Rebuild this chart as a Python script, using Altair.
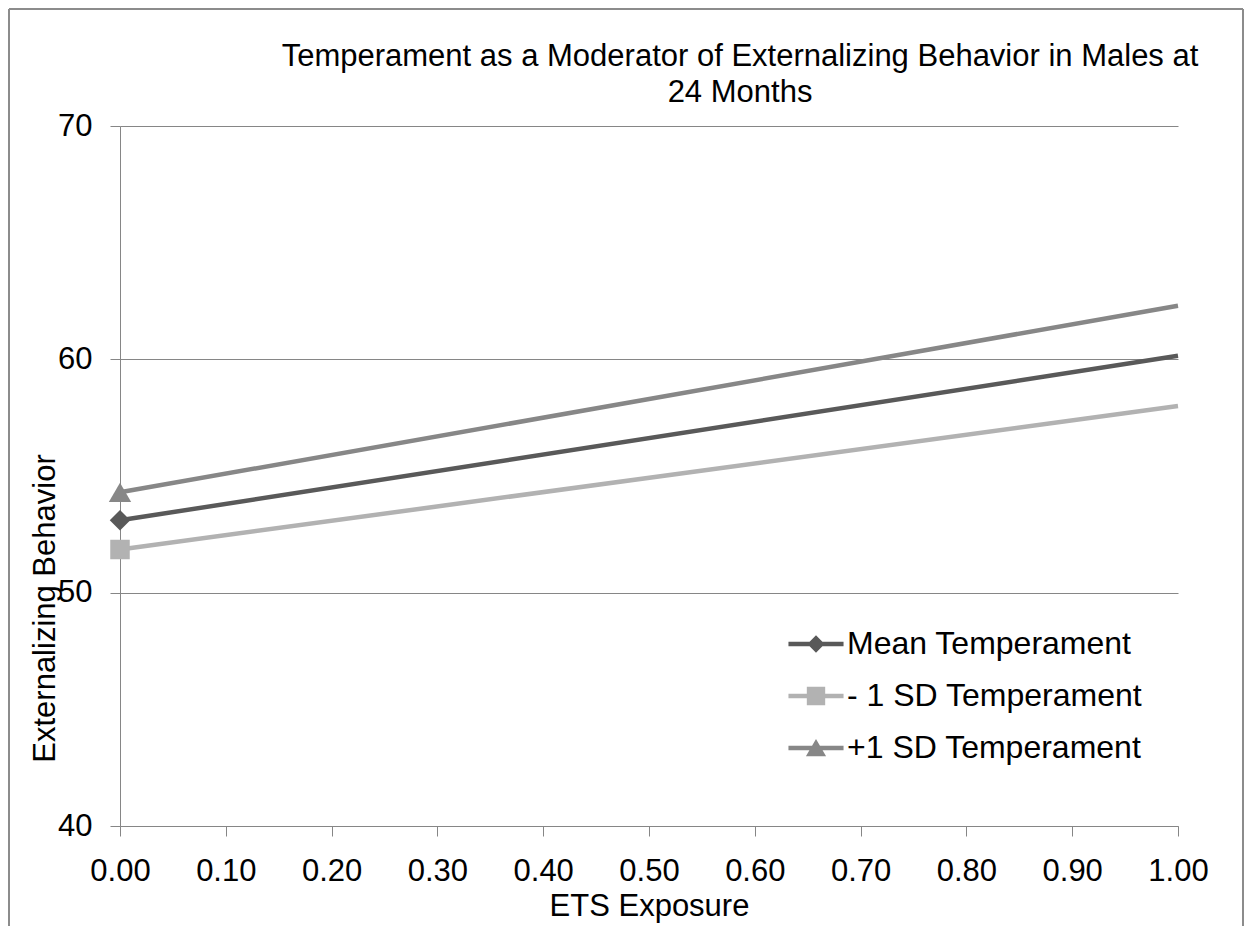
import altair as alt
import pandas as pd

# ---- data ----
ets_levels = [0.0, 1.0]
series_names = ["Mean Temperament", "- 1 SD Temperament", "+1 SD Temperament"]
mean_values = [53.1, 60.15]
minus_sd_values = [51.85, 58.0]
plus_sd_values = [54.3, 62.3]
x_tick_values = [0.0, 0.1, 0.2, 0.3, 0.4, 0.5, 0.6, 0.7, 0.8, 0.9, 1.0]
y_tick_values = [40, 50, 60, 70]

rows = []
for name, vals in zip(series_names, [mean_values, minus_sd_values, plus_sd_values]):
    for x, v in zip(ets_levels, vals):
        rows.append({"ets": x, "value": v, "series": name})
df = pd.DataFrame(rows)

# ---- styling ----
FONT = "Liberation Sans"
FS = 31
GRAY = "#868686"
line_colors = ["#595959", "#b2b2b2", "#878787"]
marker_shapes = ["diamond", "square", "triangle-up"]
marker_sizes = [420, 380, 500]
# legend symbols: a line with the marker on it (units of sqrt(symbolSize)/2 = 9px)
legend_paths = [
    "M-3.06,-0.245H3.06V0.245H-3.06Z M0,-0.96L0.96,0L0,0.96L-0.96,0Z",
    "M-3.06,-0.245H3.06V0.245H-3.06Z M-1.02,-1.02H1.02V1.02H-1.02Z",
    "M-3.06,-0.245H3.06V0.245H-3.06Z M0,-1L1.12,0.92H-1.12Z",
]

W, H = 1058, 700
PAD = {"left": 112, "top": 118, "right": 66, "bottom": 100}

x_enc = alt.X(
    "ets:Q",
    scale=alt.Scale(domain=[0, 1], nice=False, zero=False),
    axis=alt.Axis(
        values=x_tick_values, format=".2f", grid=False,
        tickSize=10, tickColor=GRAY, tickWidth=1,
        domainColor=GRAY, domainWidth=1,
        labelFont=FONT, labelFontSize=FS, labelColor="black",
        labelPadding=20, labelFlush=False, labelOverlap=False,
        title="ETS Exposure", titleFont=FONT, titleFontSize=FS,
        titleFontWeight="normal", titleColor="black", titlePadding=5,
    ),
)
y_enc = alt.Y(
    "value:Q",
    scale=alt.Scale(domain=[40, 70], nice=False, zero=False),
    axis=alt.Axis(
        values=y_tick_values, grid=True, gridColor=GRAY, gridWidth=1,
        tickSize=10, tickColor=GRAY, tickWidth=1,
        domainColor=GRAY, domainWidth=1,
        labelFont=FONT, labelFontSize=FS, labelColor="black",
        labelPadding=18, labelFlush=False, labelOverlap=False,
        title="Externalizing Behavior", titleFont=FONT, titleFontSize=FS,
        titleFontWeight="normal", titleColor="black",
        titleAngle=270, titleAlign="center", titleBaseline="middle",
        titleX=-75, titleY=482,
    ),
)
color_scale = alt.Scale(domain=series_names, range=line_colors)

base = alt.Chart(df)

series_layers = []
for name, col, shp, sz in zip(series_names, line_colors, marker_shapes, marker_sizes):
    sub = base.transform_filter(alt.datum.series == name)
    series_layers.append(
        sub.mark_line(strokeWidth=4.5, color=col).encode(x=x_enc, y=y_enc)
    )
    series_layers.append(
        sub.transform_filter(alt.datum.ets == 0)
        .mark_point(shape=shp, filled=True, size=sz, opacity=1, color=col)
        .encode(x=x_enc, y=y_enc)
    )

legend_spec = dict(
    title=None, orient="none", legendX=680, legendY=502,
    symbolSize=324, symbolStrokeWidth=0, symbolOpacity=1,
    labelFont=FONT, labelFontSize=32, labelColor="black",
    labelOffset=15, labelLimit=500, rowPadding=20, padding=0,
)
legend_layer = base.transform_filter("datum.ets < 0").mark_point(filled=True).encode(
    x=x_enc, y=y_enc,
    color=alt.Color("series:N", scale=color_scale, legend=alt.Legend(**legend_spec)),
    shape=alt.Shape(
        "series:N",
        scale=alt.Scale(domain=series_names, range=legend_paths),
        legend=alt.Legend(**legend_spec),
    ),
)

# outer frame (left, top, right)
frame_data = alt.Data(values=[{"k": 0}])
FR = "#8c8c8c"
frame_left = alt.Chart(frame_data).mark_rule(color=FR, strokeWidth=2).encode(
    x=alt.value(-111), y=alt.value(-117), y2=alt.value(H + PAD["bottom"]))
frame_top = alt.Chart(frame_data).mark_rule(color=FR, strokeWidth=2).encode(
    x=alt.value(-111), x2=alt.value(W + PAD["right"] - 1), y=alt.value(-117))
frame_right = alt.Chart(frame_data).mark_rule(color=FR, strokeWidth=2).encode(
    x=alt.value(W + PAD["right"] - 1), y=alt.value(-117), y2=alt.value(H + PAD["bottom"]))

chart = alt.layer(
    *series_layers, legend_layer, frame_left, frame_top, frame_right
).properties(
    width=W, height=H,
    padding=PAD,
    autosize=alt.AutoSizeParams(type="none"),
    background="white",
    title=alt.TitleParams(
        text=["Temperament as a Moderator of Externalizing Behavior in Males at", "24 Months"],
        font=FONT, fontSize=FS, fontWeight="normal", color="black",
        anchor="middle", frame="group", dx=91, offset=-101, lineHeight=36.5,
    ),
).configure_view(stroke=None)

chart.save("out.html", embed_options={"renderer": "svg", "actions": False})
